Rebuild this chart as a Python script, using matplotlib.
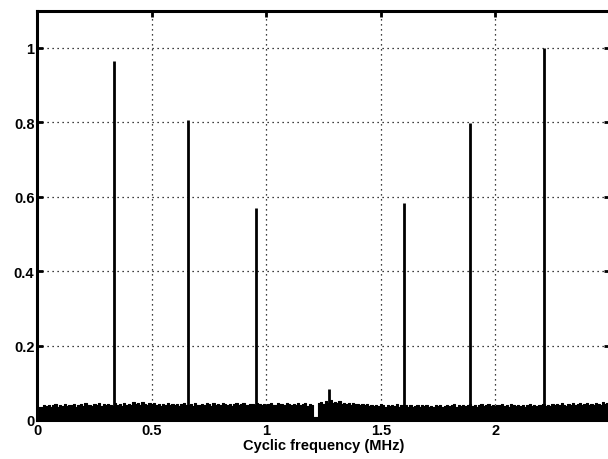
#!/usr/bin/env python3
import numpy as np
import matplotlib
matplotlib.use("Agg")
import matplotlib.pyplot as plt

plt.rcParams['font.family'] = ['Liberation Sans', 'DejaVu Sans']
plt.rcParams['font.weight'] = 'bold'

# cyclic spectrum peaks (MHz, normalised magnitude)
peak_freq = [0.333, 0.656, 0.954, 1.274, 1.602, 1.890, 2.211]
peak_amp = [0.965, 0.807, 0.571, 0.083, 0.582, 0.799, 1.0]

# noise floor envelope, one value per 0.01 MHz from 0 to 2.49
noise_start = 0.0
noise_step = 0.01
noise = [
    0.030, 0.036, 0.034, 0.040, 0.037, 0.041, 0.035, 0.039, 0.042, 0.036,
    0.040, 0.038, 0.043, 0.037, 0.041, 0.039, 0.044, 0.036, 0.040, 0.042,
    0.038, 0.045, 0.039, 0.041, 0.037, 0.043, 0.040, 0.046, 0.038, 0.042,
    0.039, 0.044, 0.041, 0.037, 0.045, 0.040, 0.043, 0.038, 0.047, 0.041,
    0.044, 0.039, 0.048, 0.042, 0.046, 0.040, 0.049, 0.043, 0.041, 0.047,
    0.042, 0.045, 0.040, 0.044, 0.038, 0.043, 0.041, 0.046, 0.039, 0.042,
    0.040, 0.044, 0.037, 0.042, 0.045, 0.039, 0.041, 0.043, 0.038, 0.046,
    0.041, 0.039, 0.044, 0.040, 0.047, 0.042, 0.038, 0.045, 0.041, 0.043,
    0.039, 0.046, 0.042, 0.040, 0.044, 0.038, 0.043, 0.047, 0.040, 0.042,
    0.045, 0.041, 0.039, 0.044, 0.042, 0.040, 0.046, 0.043, 0.041, 0.044,
    0.040, 0.043, 0.047, 0.041, 0.039, 0.045, 0.042, 0.044, 0.040, 0.046,
    0.042, 0.039, 0.044, 0.041, 0.046, 0.040, 0.043, 0.045, 0.038, 0.044,
    0.041, 0.008, 0.008, 0.046, 0.049, 0.044, 0.051, 0.047, 0.053, 0.046,
    0.049, 0.045, 0.050, 0.044, 0.047, 0.043, 0.046, 0.041, 0.045, 0.042,
    0.044, 0.040, 0.043, 0.039, 0.042, 0.038, 0.041, 0.037, 0.040, 0.038,
    0.042, 0.039, 0.036, 0.040, 0.037, 0.041, 0.038, 0.044, 0.036, 0.039,
    0.037, 0.040, 0.036, 0.039, 0.035, 0.038, 0.041, 0.036, 0.039, 0.037,
    0.040, 0.036, 0.038, 0.035, 0.039, 0.037, 0.041, 0.036, 0.038, 0.040,
    0.037, 0.039, 0.042, 0.036, 0.040, 0.038, 0.041, 0.037, 0.039, 0.043,
    0.038, 0.041, 0.036, 0.040, 0.044, 0.037, 0.039, 0.042, 0.038, 0.040,
    0.037, 0.041, 0.039, 0.043, 0.038, 0.040, 0.036, 0.042, 0.039, 0.037,
    0.041, 0.038, 0.040, 0.036, 0.039, 0.042, 0.037, 0.040, 0.038, 0.041,
    0.039, 0.043, 0.037, 0.041, 0.038, 0.044, 0.040, 0.042, 0.039, 0.045,
    0.041, 0.038, 0.043, 0.040, 0.046, 0.039, 0.042, 0.045, 0.040, 0.043,
    0.047, 0.041, 0.044, 0.040, 0.046, 0.042, 0.039, 0.048, 0.043, 0.045,
]

xticks = [0, 0.5, 1, 1.5, 2]
xticklabels = ['0', '0.5', '1', '1.5', '2']
yticks = [0, 0.2, 0.4, 0.6, 0.8, 1]
yticklabels = ['0', '0.2', '0.4', '0.6', '0.8', '1']

fig = plt.figure(figsize=(6.08, 4.6), dpi=100)
ax = fig.add_axes([0.0613, 0.0848, 0.9417, 0.8898])

fx = noise_start + noise_step * np.arange(len(noise))
ax.fill_between(fx, 0, noise, color='black', lw=0, step='mid')
ax.plot(fx, noise, color='black', lw=0.8, drawstyle='steps-mid')
ax.vlines(peak_freq, 0, peak_amp, color='black', lw=2.0)

ax.set_xlim(0, 2.5)
ax.set_ylim(0, 1.1)
ax.set_xticks(xticks)
ax.set_xticklabels(xticklabels)
ax.set_yticks(yticks)
ax.set_yticklabels(yticklabels)
ax.grid(True, color='black', linestyle=(0, (1, 3)), lw=0.9)
ax.tick_params(direction='in', length=4, width=2, labelsize=10.5,
               top=True, right=True, pad=2)
for s in ax.spines.values():
    s.set_linewidth(2.2)
ax.set_xlabel('Cyclic frequency (MHz)', fontsize=10.5, fontweight='bold',
              labelpad=1)

fig.savefig('out.png', dpi=100)
